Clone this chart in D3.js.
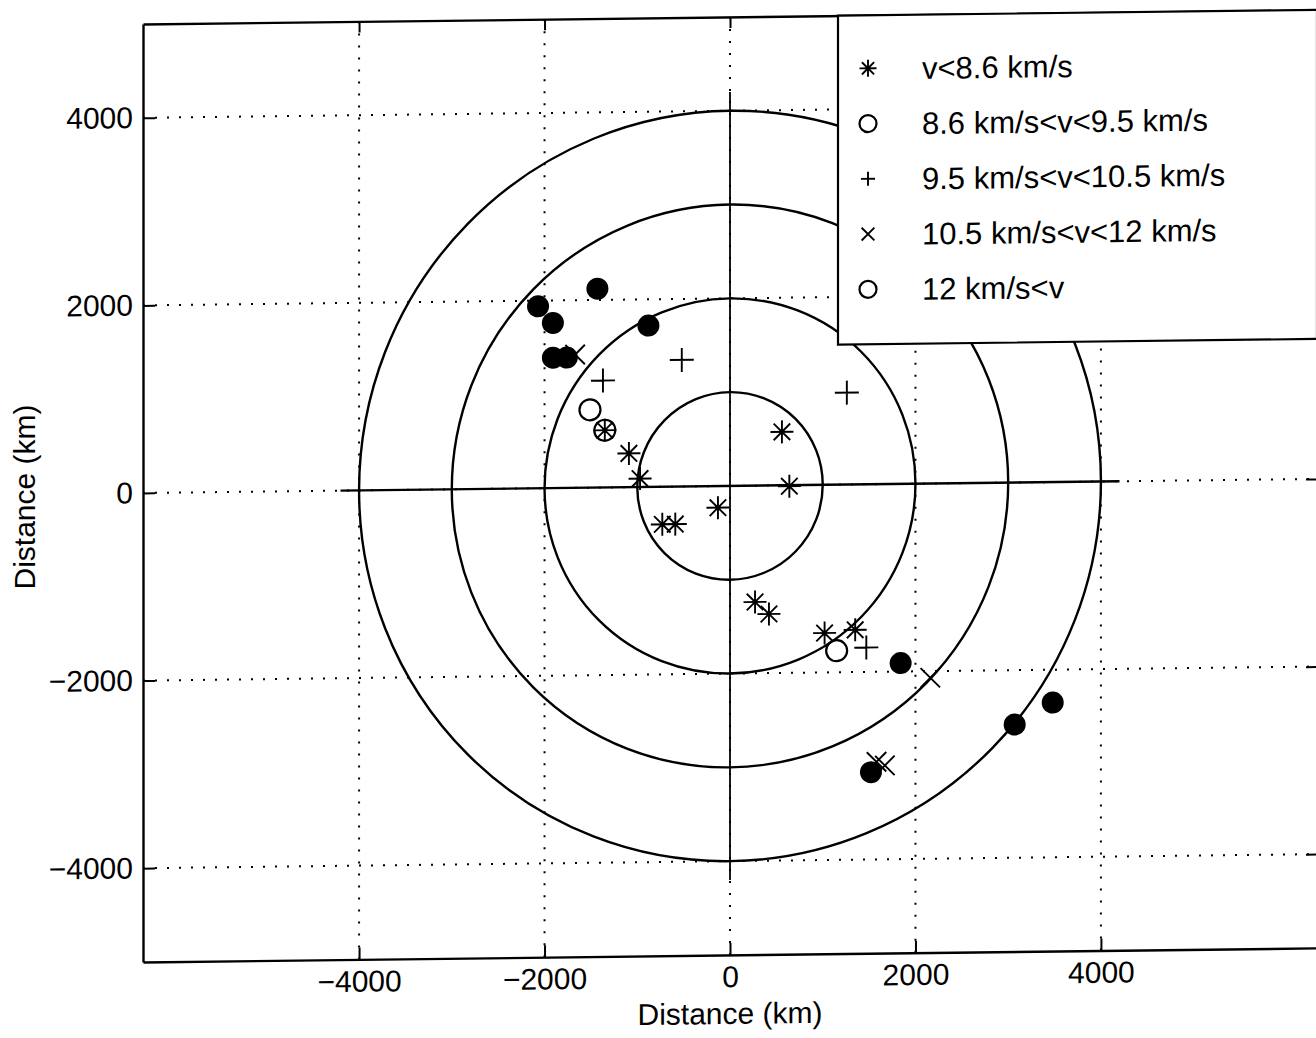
<!DOCTYPE html>
<html>
<head>
<meta charset="utf-8">
<script src="https://cdn.jsdelivr.net/npm/d3@7"></script>
<style>
  html, body { margin: 0; padding: 0; background: #fff; }
  svg { display: block; font-family: "Liberation Sans", Arial, Helvetica, sans-serif; }
</style>
</head>
<body>
<svg id="chart" width="1316" height="1038"></svg>
<script>
// ---------------- data ----------------
const xTicks = [-4000, -2000, 0, 2000, 4000];
const yTicks = [-4000, -2000, 0, 2000, 4000];
const ringRadii = [1000, 2000, 3000, 4000];
const crossHalfLength = 4200;
const xLabel = "Distance (km)";
const yLabel = "Distance (km)";

const legendLabels = [
  "v<8.6 km/s",
  "8.6 km/s<v<9.5 km/s",
  "9.5 km/s<v<10.5 km/s",
  "10.5 km/s<v<12 km/s",
  "12 km/s<v"
];
const legendSymbols = ["asterisk", "circle", "plus", "cross", "circle"];

// v < 8.6 km/s  (asterisk)
const seriesV1 = [[-1350, 610], [-1090, 360], [-970, 90], [-130, -230], [-730, -400], [-590, -400],
                  [560, 570], [640, -10], [270, -1240], [420, -1370], [1020, -1580], [1350, -1550]];
// 8.6 < v < 9.5 km/s (open circle)
const seriesV2 = [[-1510, 830], [-1350, 610], [1150, -1770]];
// 9.5 < v < 10.5 km/s (plus)
const seriesV3 = [[-1370, 1140], [-520, 1350], [1260, 980], [1470, -1740]];
// 10.5 < v < 12 km/s (x)
const seriesV4 = [[-1670, 1420], [2160, -2070], [1580, -2960], [1670, -3000]];
// 12 km/s < v (filled circle)
const seriesV5 = [[-1430, 2120], [-2070, 1940], [-1910, 1760], [-1910, 1390], [-1760, 1390], [-880, 1720],
                  [1840, -1910], [1520, -3070], [3070, -2580], [3480, -2350]];

// ---------------- layout ----------------
const svg = d3.select("#chart");
const pL = 143, pR = 1317, pT = 24, pB = 962;
const x = d3.scaleLinear().domain([-6330, 6330]).range([pL, pR]);
const y = d3.scaleLinear().domain([-5000, 5000]).range([pB, pT]);

// slight scan skew of the original
const skewDeg = Math.atan(-0.012) * 180 / Math.PI;
const g = svg.append("g")
  .attr("transform", `translate(${pL},0) skewY(${skewDeg}) translate(${-pL},0)`);

const defs = svg.append("defs");
defs.append("clipPath").attr("id", "plotclip")
  .append("rect").attr("x", pL).attr("y", pT).attr("width", pR - pL).attr("height", pB - pT);

const plot = g.append("g").attr("clip-path", "url(#plotclip)");

// grid (dotted)
plot.selectAll(".gx").data(xTicks).join("line")
  .attr("x1", d => x(d)).attr("x2", d => x(d)).attr("y1", pT).attr("y2", pB)
  .attr("stroke", "#000").attr("stroke-width", 2).attr("stroke-dasharray", "2,10");
plot.selectAll(".gy").data(yTicks).join("line")
  .attr("y1", d => y(d)).attr("y2", d => y(d)).attr("x1", pL).attr("x2", pR)
  .attr("stroke", "#000").attr("stroke-width", 2).attr("stroke-dasharray", "2,10");

// rings
plot.selectAll(".ring").data(ringRadii).join("ellipse")
  .attr("cx", x(0)).attr("cy", y(0))
  .attr("rx", d => x(d) - x(0)).attr("ry", d => y(0) - y(d))
  .attr("fill", "none").attr("stroke", "#000").attr("stroke-width", 2.4);

// cross lines
plot.append("line").attr("x1", x(-crossHalfLength)).attr("x2", x(crossHalfLength))
  .attr("y1", y(0)).attr("y2", y(0)).attr("stroke", "#000").attr("stroke-width", 2.4);
plot.append("line").attr("x1", x(0)).attr("x2", x(0))
  .attr("y1", y(crossHalfLength)).attr("y2", y(-crossHalfLength)).attr("stroke", "#000").attr("stroke-width", 1.8);

// marker drawing
function drawMarker(sel, type, size) {
  const h = size / 2;
  const sw = 1.9;
  if (type === "asterisk") {
    const d = h * 0.72;
    sel.append("path").attr("d", `M${-h},0H${h}M0,${-h}V${h}M${-d},${-d}L${d},${d}M${-d},${d}L${d},${-d}`)
      .attr("stroke", "#000").attr("stroke-width", sw).attr("fill", "none");
    sel.append("circle").attr("r", 2.4).attr("fill", "#000");
  } else if (type === "circle") {
    sel.append("circle").attr("r", h).attr("fill", "none").attr("stroke", "#000").attr("stroke-width", 2.2);
  } else if (type === "plus") {
    sel.append("path").attr("d", `M${-h},0H${h}M0,${-h}V${h}`)
      .attr("stroke", "#000").attr("stroke-width", sw).attr("fill", "none");
  } else if (type === "cross") {
    const d = h * 0.75;
    sel.append("path").attr("d", `M${-d},${-d}L${d},${d}M${-d},${d}L${d},${-d}`)
      .attr("stroke", "#000").attr("stroke-width", sw).attr("fill", "none");
  } else if (type === "filled") {
    sel.append("circle").attr("r", h).attr("fill", "#000");
  }
}

function drawSeries(data, type, size) {
  plot.append("g").selectAll("g").data(data).join("g")
    .attr("transform", d => `translate(${x(d[0])},${y(d[1])})`)
    .each(function () { drawMarker(d3.select(this), type, size); });
}
drawSeries(seriesV3, "plus", 24);
drawSeries(seriesV4, "cross", 26);
drawSeries(seriesV2, "circle", 21);
drawSeries(seriesV1, "asterisk", 23);
drawSeries(seriesV5, "filled", 22);

// axes
const fontSize = 30;
const fmt = d3.format("d");
const axB = g.append("g").attr("transform", `translate(0,${pB})`)
  .call(d3.axisBottom(x).tickValues(xTicks).tickFormat(fmt).tickSizeInner(-12).tickSizeOuter(0).tickPadding(11));
const axL = g.append("g").attr("transform", `translate(${pL},0)`)
  .call(d3.axisLeft(y).tickValues(yTicks).tickFormat(fmt).tickSizeInner(-12).tickSizeOuter(0).tickPadding(10));
const axT = g.append("g").attr("transform", `translate(0,${pT})`)
  .call(d3.axisTop(x).tickValues(xTicks).tickSizeInner(-11).tickSizeOuter(0).tickFormat(""));
const axR = g.append("g").attr("transform", `translate(${pR},0)`)
  .call(d3.axisRight(y).tickValues(yTicks).tickSizeInner(-11).tickSizeOuter(0).tickFormat(""));
[axB, axL, axT, axR].forEach(a => {
  a.attr("font-family", null).attr("font-size", null);
  a.select(".domain").attr("stroke", "#000").attr("stroke-width", 2.4);
  a.selectAll(".tick line").attr("stroke", "#000").attr("stroke-width", 2);
  a.selectAll(".tick text").attr("fill", "#000").style("font-size", fontSize + "px");
});

// legend
const legX = 838, legY = pT, legW = pR - 838, legH = 329;
const leg = g.append("g");
leg.append("rect").attr("x", legX).attr("y", legY).attr("width", legW).attr("height", legH)
  .attr("fill", "#fff").attr("stroke", "#000").attr("stroke-width", 2.2);
const legRowY = d3.scalePoint().domain(d3.range(legendLabels.length)).range([77, 298]);
legendLabels.forEach((lab, i) => {
  const row = leg.append("g").attr("transform", `translate(${868},${legRowY(i)})`);
  drawMarker(row, legendSymbols[i], legendSymbols[i] === "plus" ? 14 : 17);
  leg.append("text").attr("x", 922).attr("y", legRowY(i)).attr("dy", "0.36em")
    .style("font-size", "31px").attr("fill", "#000").text(lab);
});

// axis titles
g.append("text").attr("x", x(0)).attr("y", 1031).attr("text-anchor", "middle")
  .style("font-size", fontSize + "px").attr("fill", "#000").text(xLabel);
svg.append("text").attr("transform", "translate(35,497) rotate(-90)").attr("text-anchor", "middle")
  .style("font-size", fontSize + "px").attr("fill", "#000").text(yLabel);
</script>
</body>
</html>
